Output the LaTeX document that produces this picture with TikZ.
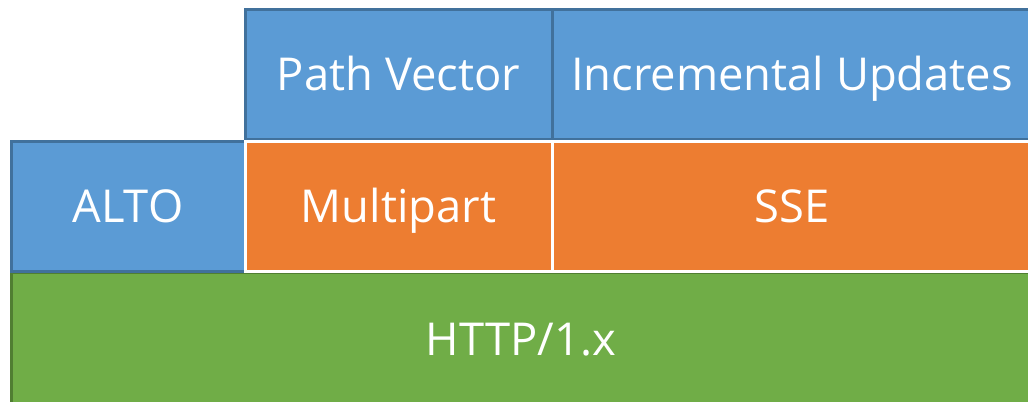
\documentclass[tikz,border=0pt]{standalone}
\usepackage{fontspec}
\setmainfont{Open Sans}
\definecolor{layerblue}{HTML}{5B9BD5}
\definecolor{layerblueline}{HTML}{41719C}
\definecolor{layerorange}{HTML}{ED7D31}
\definecolor{layergreen}{HTML}{70AD47}
\definecolor{layergreenline}{HTML}{507E32}

\begin{document}
\begin{tikzpicture}[x=0.75pt,y=-0.75pt,
      every node/.style={inner sep=0pt,outer sep=0pt,text=white,
        font=\fontsize{34}{40}\selectfont,text height=24.3pt,text depth=0pt},
      layer/.style={rectangle,line width=2.25pt,anchor=north west},
      bluelayer/.style={layer,fill=layerblue,draw=layerblueline},
      orangelayer/.style={layer,fill=layerorange,draw=white},
      greenlayer/.style={layer,fill=layergreen,draw=layergreenline}]
      \useasboundingbox (0,0) rectangle (1028,401);
      \node[greenlayer, minimum width=1020*0.75pt, minimum height=134*0.75pt] (http) at (11,272) {HTTP/1.x};
      \node[bluelayer, minimum width=234*0.75pt, minimum height=130*0.75pt] (alto) at (11,141) {ALTO};
      \node[bluelayer, minimum width=307*0.75pt, minimum height=130*0.75pt] (pv) at (245,9) {Path Vector};
      \node[bluelayer, minimum width=480*0.75pt, minimum height=130*0.75pt] (iu) at (pv.north east) {Incremental Updates};
      \node[orangelayer, minimum width=307*0.75pt, minimum height=130*0.75pt] (mp) at (245,141) {Multipart};
      \node[orangelayer, minimum width=480*0.75pt, minimum height=130*0.75pt] (sse) at (mp.north east) {SSE};
    \end{tikzpicture}
\end{document}
